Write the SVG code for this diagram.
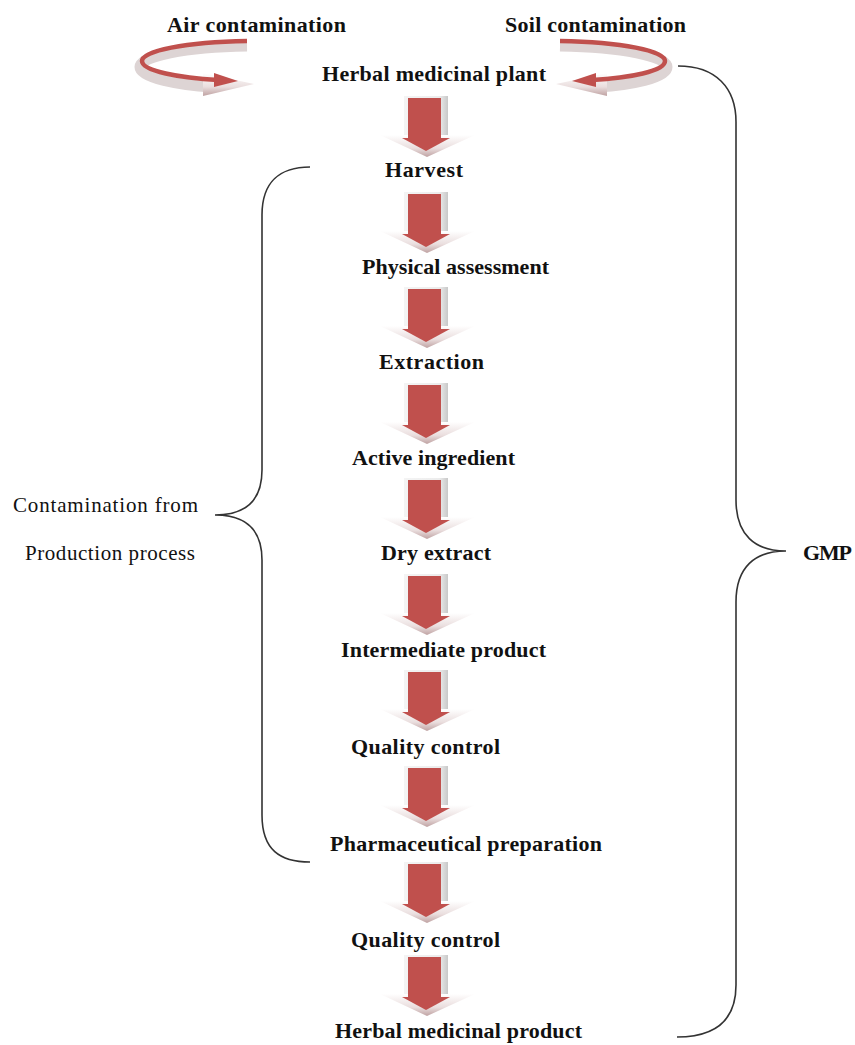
<svg xmlns="http://www.w3.org/2000/svg" width="855" height="1045" viewBox="0 0 855 1045">
<style>
.b{font-family:"Liberation Serif","Times New Roman",serif;font-weight:bold;font-size:22px;fill:#111}
.n{font-family:"Liberation Serif","Times New Roman",serif;font-size:21px;fill:#111}
.br{fill:none;stroke:#333;stroke-width:1.6}
.red{fill:#c0504d}
</style>
<defs>
<linearGradient id="hg" x1="0" y1="0" x2="0" y2="1">
<stop offset="0" stop-color="#ffffff"/>
<stop offset="0.6" stop-color="#eadede"/>
<stop offset="1" stop-color="#bfa2a2"/>
</linearGradient>
<linearGradient id="sg" x1="0" y1="0" x2="1" y2="0">
<stop offset="0" stop-color="#f4f4f4"/>
<stop offset="0.8" stop-color="#ececec"/>
<stop offset="1" stop-color="#c8c8c8"/>
</linearGradient>
<g id="down">
<rect x="404" y="0" width="44" height="42" fill="url(#sg)"/>
<polygon points="380,39 475,39 427,61" fill="url(#hg)"/>
<rect x="408" y="2" width="33" height="41" class="red"/>
<polygon points="402,42 450,42 426,55" class="red"/>
</g>
</defs>

<g id="connectors">
<use href="#down" y="96"/>
<use href="#down" y="192"/>
<use href="#down" y="287"/>
<use href="#down" y="383"/>
<use href="#down" y="478"/>
<use href="#down" y="574"/>
<use href="#down" y="670"/>
<use href="#down" y="766"/>
<use href="#down" y="862"/>
<use href="#down" y="955"/>
<g id="air-swirl">
<path d="M247,46 C185,47 140,56 140,67 C140,78 180,85 212,87" fill="none" stroke="#ddd4d4" stroke-width="11"/>
<polygon points="203,73 254,84 203,96" fill="url(#hg)"/>
<path d="M247,41 C185,42 142,51 142,61 C142,71 180,78 218,80" fill="none" stroke="#c0504d" stroke-width="4.5"/>
<polygon points="214,73 238,81 214,87" class="red"/>
</g>
<g id="soil-swirl">
<path d="M560,46 C622,47 667,56 667,67 C667,78 630,85 598,87" fill="none" stroke="#ddd4d4" stroke-width="11"/>
<polygon points="607,73 556,84 607,96" fill="url(#hg)"/>
<path d="M560,41 C622,42 665,51 665,61 C665,71 630,78 592,80" fill="none" stroke="#c0504d" stroke-width="4.5"/>
<polygon points="596,73 572,81 596,87" class="red"/>
</g>
<path id="brace-left" class="br" d="M310,167 C280,167 262,182 262,215 L262,470 C262,500 246,515 215,515 C246,515 262,530 262,560 L262,815 C262,850 280,862 310,862"/>
<path id="brace-right" class="br" d="M678,66 C716,66 736,88 736,122 L736,500 C736,535 755,551 786,551 C755,551 736,567 736,602 L736,985 C736,1020 716,1037 677,1037"/>
</g>

<g id="air"><text class="b" x="167" y="32" textLength="179">Air contamination</text></g>
<g id="soil"><text class="b" x="505" y="32" textLength="181">Soil contamination</text></g>
<g id="plant"><text class="b" x="322" y="81" textLength="224">Herbal medicinal plant</text></g>
<g id="harvest"><text class="b" x="385" y="177" textLength="78">Harvest</text></g>
<g id="physical"><text class="b" x="362" y="274" textLength="187">Physical assessment</text></g>
<g id="extraction"><text class="b" x="379" y="369" textLength="105">Extraction</text></g>
<g id="active"><text class="b" x="352" y="465" textLength="163">Active ingredient</text></g>
<g id="dry"><text class="b" x="381" y="560" textLength="110">Dry extract</text></g>
<g id="intermediate"><text class="b" x="341" y="657" textLength="205">Intermediate product</text></g>
<g id="qc1"><text class="b" x="351" y="754" textLength="149">Quality control</text></g>
<g id="pharma"><text class="b" x="330" y="851" textLength="272">Pharmaceutical preparation</text></g>
<g id="qc2"><text class="b" x="351" y="947" textLength="149">Quality control</text></g>
<g id="product"><text class="b" x="335" y="1038" textLength="247">Herbal medicinal product</text></g>
<g id="contam"><text class="n" x="13" y="512" textLength="185">Contamination from</text><text class="n" x="25" y="560" textLength="170">Production process</text></g>
<g id="gmp"><text class="b" x="803" y="560" textLength="49">GMP</text></g>
</svg>
